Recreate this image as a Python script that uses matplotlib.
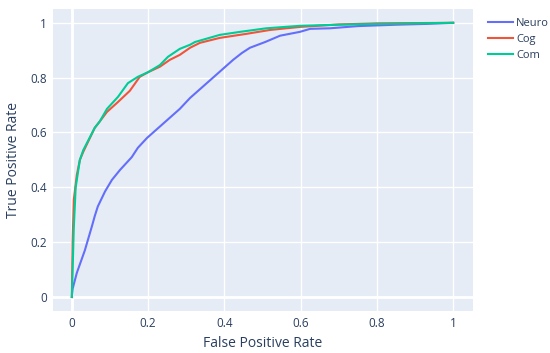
import matplotlib
matplotlib.use("Agg")
import matplotlib.pyplot as plt

# ROC curves
neuro_fpr = [0.0, 0.002, 0.013, 0.034, 0.053, 0.06, 0.068, 0.087, 0.105, 0.126,
             0.157, 0.173, 0.197, 0.283, 0.31, 0.423, 0.446, 0.467, 0.507, 0.546,
             0.598, 0.625, 0.677, 0.75, 0.85, 0.93, 1.0]
neuro_tpr = [0.0, 0.03, 0.088, 0.17, 0.26, 0.295, 0.33, 0.385, 0.427, 0.463,
             0.51, 0.544, 0.58, 0.686, 0.726, 0.865, 0.89, 0.909, 0.93, 0.953,
             0.967, 0.978, 0.98, 0.988, 0.993, 0.996, 1.0]

cog_fpr = [0.0, 0.002, 0.005, 0.013, 0.021, 0.03, 0.06, 0.073, 0.092, 0.12,
           0.152, 0.178, 0.2, 0.231, 0.257, 0.283, 0.31, 0.336, 0.388, 0.459,
           0.52, 0.598, 0.7, 0.8, 0.9, 1.0]
cog_tpr = [0.0, 0.2, 0.354, 0.445, 0.5, 0.53, 0.617, 0.64, 0.675, 0.71,
           0.752, 0.803, 0.82, 0.84, 0.865, 0.883, 0.909, 0.927, 0.945, 0.96,
           0.974, 0.985, 0.994, 0.998, 0.999, 1.0]

com_fpr = [0.0, 0.005, 0.01, 0.021, 0.03, 0.06, 0.073, 0.092, 0.121, 0.147,
           0.173, 0.2, 0.231, 0.252, 0.283, 0.31, 0.323, 0.388, 0.441, 0.51,
           0.598, 0.7, 0.8, 0.9, 1.0]
com_tpr = [0.0, 0.25, 0.40, 0.5, 0.536, 0.617, 0.64, 0.686, 0.73, 0.78,
           0.803, 0.82, 0.846, 0.876, 0.905, 0.92, 0.93, 0.956, 0.967, 0.98,
           0.989, 0.993, 0.996, 0.998, 1.0]

ticks = [0, 0.2, 0.4, 0.6, 0.8, 1]
tick_labels = ["0", "0.2", "0.4", "0.6", "0.8", "1"]

plt.rcParams["font.family"] = ["Open Sans", "DejaVu Sans"]
text_color = "#2a3f5f"

fig = plt.figure(figsize=(5.5, 3.53), dpi=100)
ax = fig.add_axes([0.096, 0.119, 0.764, 0.856])
ax.set_facecolor("#E5ECF6")

ax.plot(neuro_fpr, neuro_tpr, color="#636efa", lw=1.5, label="Neuro", zorder=3)
ax.plot(cog_fpr, cog_tpr, color="#EF553B", lw=1.5, label="Cog", zorder=3)
ax.plot(com_fpr, com_tpr, color="#00cc96", lw=1.5, label="Com", zorder=4)

ax.set_xlim(-0.05, 1.052)
ax.set_ylim(-0.051, 1.051)
ax.set_xticks(ticks)
ax.set_xticklabels(tick_labels)
ax.set_yticks(ticks)
ax.set_yticklabels(tick_labels)
ax.grid(True, color="white", lw=1)
ax.axhline(0, color="white", lw=2, zorder=2)
ax.axvline(0, color="white", lw=2, zorder=2)
ax.set_axisbelow(True)
for s in ax.spines.values():
    s.set_visible(False)
ax.tick_params(length=0, labelsize=8.5, colors=text_color, pad=4)

ax.set_xlabel("False Positive Rate", fontsize=10, color=text_color, labelpad=5)
ax.set_ylabel("True Positive Rate", fontsize=10, color=text_color, labelpad=7)

fig.legend(loc="upper left", bbox_to_anchor=(0.88, 0.963), frameon=False,
           fontsize=8, labelcolor=text_color, handlelength=2.2,
           handletextpad=0.3, labelspacing=0.45, borderaxespad=0)

fig.savefig("out.png", dpi=100)
